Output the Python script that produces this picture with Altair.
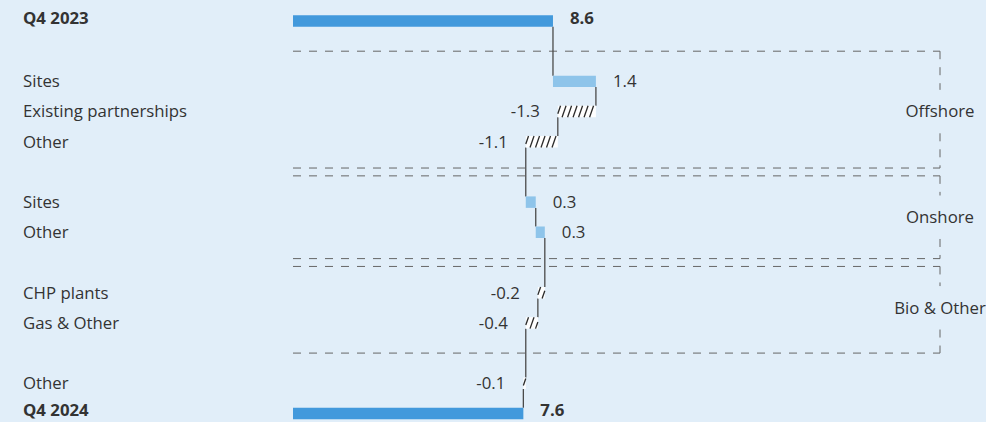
import altair as alt
import pandas as pd

# ---- data ----
row_labels = ["Q4 2023", "Sites", "Existing partnerships", "Other", "Sites", "Other",
              "CHP plants", "Gas & Other", "Other", "Q4 2024"]
row_pos = [0, 2, 3, 4, 6, 7, 9, 10, 12, 13]
row_values = [8.6, 1.42, -1.26, -1.06, 0.33, 0.30, -0.23, -0.40, -0.08, 7.62]
row_kind = ["total", "delta", "delta", "delta", "delta", "delta", "delta", "delta", "delta", "total"]

group_names = ["Offshore", "Onshore", "Bio & Other"]
group_first = [1, 5, 8]
group_last = [5, 8, 11]

# ---- style ----
BG = "#e1eef9"
TOTAL = "#4299dc"
POS = "#8ec4ea"
TXT = "#333333"
FONT = "Open Sans"
FS = 16.8
DY = 0.8
DY_TOTAL = -2.5
PX_PER_UNIT = 30.23
ZERO_PX = 293
ROW_PX = 30.19
TOP_PX = 21
W, H = 986, 422
HALF = 0.19
GAP = 0.13  # separation between adjacent group brackets (rows)

# ---- derived tables ----
recs = []
cum = 0.0
for lab, r, v, k in zip(row_labels, row_pos, row_values, row_kind):
    if k == "total":
        start, end = 0.0, v
        cum = v
        side = "total"
    else:
        start, end = cum, cum + v
        cum = end
        side = "pos" if v > 0 else "neg"
    recs.append(dict(label=lab, row=r, value=v, start=start, end=end, side=side,
                     lo=min(start, end), hi=max(start, end),
                     y=r - HALF, y2=r + HALF, txt=f"{v:.1f}"))
df = pd.DataFrame(recs)

# connectors
con = []
for a, b in zip(recs[:-1], recs[1:]):
    con.append(dict(x=a["end"], y=a["row"] + HALF, y2=b["row"] - HALF))
con_df = pd.DataFrame(con)

# hatch segments for negative bars
step = 5.5 / PX_PER_UNIT
slant = 4.0 / PX_PER_UNIT
hatch = []
for rr in recs:
    if rr["side"] != "neg":
        continue
    lo, hi = rr["lo"], rr["hi"]
    bot, top = rr["row"] + HALF, rr["row"] - HALF
    u = lo - slant + step * 0.5
    while u < hi:
        t0 = max(0.0, (lo - u) / slant)
        t1 = min(1.0, (hi - u) / slant)
        if t1 - t0 > 0.25:
            hatch.append(dict(x=u + slant * t0, x2=u + slant * t1,
                              y=bot + (top - bot) * t0, y2=bot + (top - bot) * t1))
        u += step
hatch_df = pd.DataFrame(hatch)

# group brackets
hl, vl, gl = [], [], []
n = len(group_names)
for i, (g, f, l) in enumerate(zip(group_names, group_first, group_last)):
    top = f + (GAP if i > 0 else 0)
    bot = l - (GAP if i < n - 1 else 0)
    mid = (f + l) / 2
    hl.append(dict(y=top))
    hl.append(dict(y=bot))
    vl.append(dict(y=top, y2=mid - 0.72))
    vl.append(dict(y=mid + 0.72, y2=bot))
    gl.append(dict(name=g, y=mid))
hl_df = pd.DataFrame(hl)
vl_df = pd.DataFrame(vl)
gl_df = pd.DataFrame(gl)

xdom = [-ZERO_PX / PX_PER_UNIT, (W - ZERO_PX) / PX_PER_UNIT]
ydom = [-TOP_PX / ROW_PX, (H - TOP_PX) / ROW_PX]
xs = alt.Scale(domain=xdom, nice=False, zero=False)
ys = alt.Scale(domain=ydom, nice=False, zero=False, reverse=True)
X = lambda f: alt.X(f, type="quantitative", scale=xs, axis=None)
Y = lambda f: alt.Y(f, type="quantitative", scale=ys, axis=None)

BRACKET_X = 940

hlines = alt.Chart(hl_df).mark_rule(color="#666666", strokeWidth=1, strokeDash=[8, 8]).encode(
    x=alt.X("z:Q", scale=xs, axis=None), x2=alt.value(BRACKET_X), y=Y("y")
).transform_calculate(z="0")
vlines = alt.Chart(vl_df).mark_rule(color="#666666", strokeWidth=1, strokeDash=[8, 8]).encode(
    x=alt.value(BRACKET_X), y=Y("y"), y2="y2:Q"
)
glabels = alt.Chart(gl_df).mark_text(font=FONT, fontSize=FS, color=TXT, align="center",
                                      baseline="middle", dy=DY).encode(
    x=alt.value(BRACKET_X), y=Y("y"), text="name:N"
)

connectors = alt.Chart(con_df).mark_rule(color="#4a4a4a", strokeWidth=1.3).encode(
    x=X("x"), y=Y("y"), y2="y2:Q"
)

bars = alt.Chart(df).mark_bar().encode(
    x=X("lo"), x2="hi:Q", y=Y("y"), y2="y2:Q",
    color=alt.Color("side:N", scale=alt.Scale(domain=["total", "pos", "neg"],
                                              range=[TOTAL, POS, "#ffffff"]), legend=None)
)

hatches = alt.Chart(hatch_df).mark_rule(color="#2a2a2a", strokeWidth=1.3).encode(
    x=X("x"), x2="x2:Q", y=Y("y"), y2="y2:Q"
)

lab_total = alt.Chart(df).transform_filter("datum.side == 'total'").mark_text(
    font=FONT, fontSize=FS, fontWeight="bold", color=TXT, align="left", baseline="middle",
    dx=17, dy=DY_TOTAL
).encode(x=X("hi"), y=Y("row"), text="txt:N")
lab_pos = alt.Chart(df).transform_filter("datum.side == 'pos'").mark_text(
    font=FONT, fontSize=FS, color=TXT, align="left", baseline="middle", dx=17, dy=DY
).encode(x=X("hi"), y=Y("row"), text="txt:N")
lab_neg = alt.Chart(df).transform_filter("datum.side == 'neg'").mark_text(
    font=FONT, fontSize=FS, color=TXT, align="right", baseline="middle", dx=-18, dy=DY
).encode(x=X("lo"), y=Y("row"), text="txt:N")

cat_bold = alt.Chart(df).transform_filter("datum.side == 'total'").mark_text(
    font=FONT, fontSize=FS, fontWeight="bold", color=TXT, align="left", baseline="middle",
    dy=DY_TOTAL
).encode(x=alt.value(23), y=Y("row"), text="label:N")
cat_norm = alt.Chart(df).transform_filter("datum.side != 'total'").mark_text(
    font=FONT, fontSize=FS, color=TXT, align="left", baseline="middle", dy=DY
).encode(x=alt.value(23), y=Y("row"), text="label:N")

chart = alt.layer(
    hlines, vlines, glabels, connectors, bars, hatches,
    lab_total, lab_pos, lab_neg, cat_bold, cat_norm
).properties(
    width=W, height=H, background=BG, padding=0,
    autosize=alt.AutoSizeParams(type="none")
).configure_view(stroke=None)

chart.save("out.html", embed_options={"renderer": "svg", "actions": False})
